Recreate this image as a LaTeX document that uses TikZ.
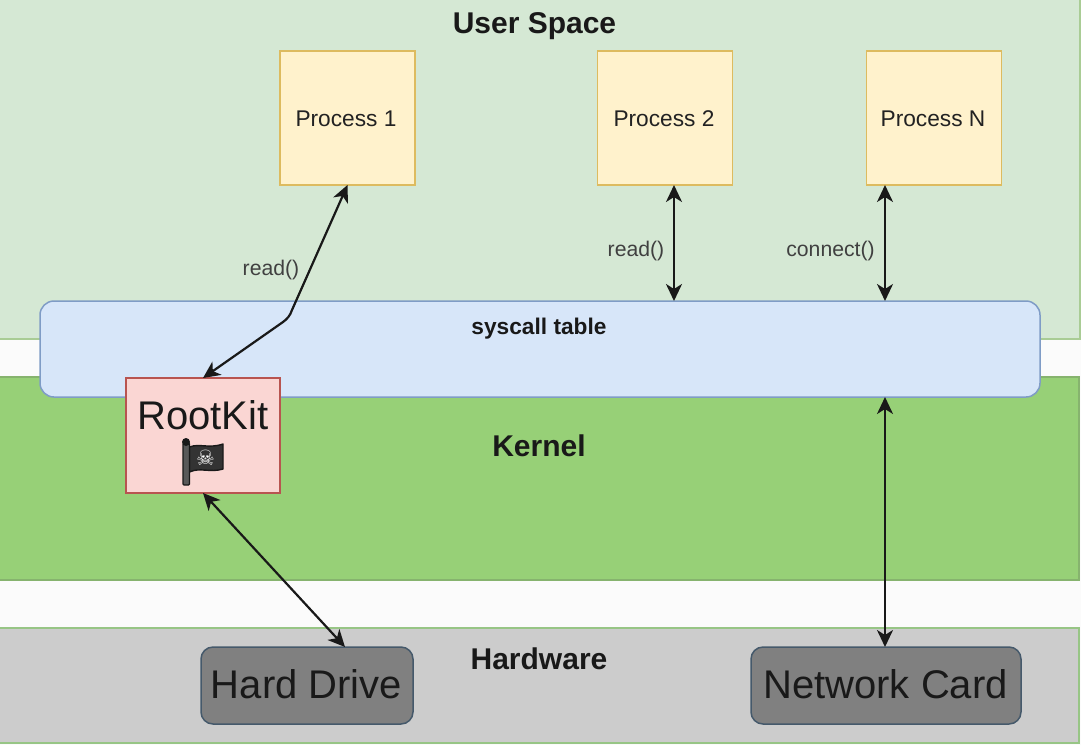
\documentclass[tikz,border=0pt]{standalone}
\usepackage{fontspec}
\setmainfont{Liberation Sans}
\newfontfamily\symfont{DejaVu Sans}
\usetikzlibrary{arrows.meta}
\definecolor{gapbg}{HTML}{FBFBFB}
\definecolor{userfill}{HTML}{D5E8D4}
\definecolor{userline}{HTML}{A9CC95}
\definecolor{kernfill}{HTML}{97D077}
\definecolor{kernline}{HTML}{86B36E}
\definecolor{hwfill}{HTML}{CCCCCC}
\definecolor{hwline}{HTML}{97C585}
\definecolor{procfill}{HTML}{FFF2CC}
\definecolor{procline}{HTML}{DDBB5F}
\definecolor{sysfill}{HTML}{D7E6F9}
\definecolor{sysline}{HTML}{7F9CC6}
\definecolor{rkfill}{HTML}{FAD6D3}
\definecolor{rkline}{HTML}{B85450}
\definecolor{devfill}{HTML}{808080}
\definecolor{devline}{HTML}{45596B}
\definecolor{txt}{HTML}{222222}
\tikzset{
  x=1pt,y=-1pt,
  band/.style={draw,line width=1.5pt,anchor=north west,inner sep=0pt,outer sep=0pt},
  procbox/.style={draw=procline,fill=procfill,line width=1.5pt,minimum width=135pt,minimum height=134pt,inner sep=0pt,outer sep=0pt},
  proctext/.style={font=\fontsize{22.7}{27}\selectfont,text=txt,inner sep=0pt},
  devbox/.style={draw=devline,fill=devfill,line width=1.5pt,rounded corners=12pt,minimum height=77pt,inner sep=0pt,outer sep=0pt},
  devtext/.style={font=\fontsize{40}{46}\selectfont,text=black!90,inner sep=0pt},
  title/.style={font=\fontsize{30}{34}\bfseries\selectfont,text=black!90,inner sep=0pt},
  lbl/.style={font=\fontsize{21.2}{25}\selectfont,text=black!75,inner sep=0pt},
  link/.style={draw=black!90,line width=2.2pt,{Stealth[length=17pt,width=16pt,inset=5pt]}-{Stealth[length=17pt,width=16pt,inset=5pt]}},
}
\begin{document}
\begin{tikzpicture}
\useasboundingbox (0,0) rectangle (1081,745);
\fill[gapbg] (0,0) rectangle (1081,745);
\node[band,draw=userline,fill=userfill,minimum width=1081pt,minimum height=340pt] (user) at (-1,-1) {};
\node[band,draw=kernline,fill=kernfill,minimum width=1080pt,minimum height=203pt] (kernel) at (-1,377) {};
\node[band,draw=hwline,fill=hwfill,minimum width=1080pt,minimum height=115pt] (hw) at (-1,628) {};
\node[title] (tuser) at (534.5,26) {User Space};
\node[title] (tkern) at (539,446) {Kernel};
\node[title] (thw) at (539,659) {Hardware};
\node[draw=sysline,fill=sysfill,line width=1.5pt,rounded corners=14pt,minimum width=1000pt,minimum height=96pt,inner sep=0pt,outer sep=0pt] (sys) at (540,349) {};
\node[font=\fontsize{22.7}{27}\bfseries\selectfont,text=black!90,inner sep=0pt] (tsys) at (539,329) {syscall table};
\node[procbox] (p1) at (347.5,118) {};
\node[procbox] (p2) at (665,118) {};
\node[procbox] (pn) at (934,118) {};
\node[proctext] (tp1) at (346,119) {Process 1};
\node[proctext] (tp2) at (664,119) {Process 2};
\node[proctext] (tpn) at (933,119) {Process N};
\node[draw=rkline,fill=rkfill,line width=1.5pt,minimum width=154pt,minimum height=115pt,inner sep=0pt,outer sep=0pt] (rk) at (203,435.5) {};
\node[font=\fontsize{40}{46}\selectfont,text=black!90,inner sep=0pt] (rktext) at (203,415) {RootKit};
% flag
\draw[black!90,line width=1.4pt,fill=black!80,line join=round]
  (189.5,447) .. controls (200,443) and (208,449) .. (223,444)
  -- (223,469) .. controls (210,473) and (200,467) .. (189.5,472) -- cycle;
\draw[black!90,line width=1.2pt,fill=black!65,rounded corners=1pt] (183,443) rectangle (189.5,485);
\fill[black!90] (186,442) circle (4pt);
\node[font=\fontsize{21}{24}\symfont,text=white,inner sep=0pt] (skull) at (205.5,457.5) {☠};
\node[devbox,minimum width=212pt] (hd) at (307,685.5) {};
\node[devbox,minimum width=270pt] (nc) at (886,685.5) {};
\node[devtext] (thd) at (306.5,684.5) {Hard Drive};
\node[devtext] (tnc) at (885.5,684.5) {Network Card};
\coordinate (axtwo) at (674,0);
\coordinate (axn) at (885,0);
\coordinate (bendA) at (292,310);
\coordinate (bendB) at (283,322);
\draw[link] (p1.south) -- (bendA) .. controls (290,316) and (287,319) .. (bendB) -- (rk.north);
\draw[link] (axtwo |- p2.south) -- (axtwo |- sys.north);
\draw[link] (axn |- pn.south) -- (axn |- sys.north);
\draw[link] (axn |- sys.south) -- (axn |- nc.north);
\draw[link] (rk.south) -- ([xshift=38pt]hd.north);
\node[lbl] (l1) at (271,270) {read()};
\node[lbl] (l2) at (636,251) {read()};
\node[lbl] (l3) at (830.5,251) {connect()};
\end{tikzpicture}
\end{document}
